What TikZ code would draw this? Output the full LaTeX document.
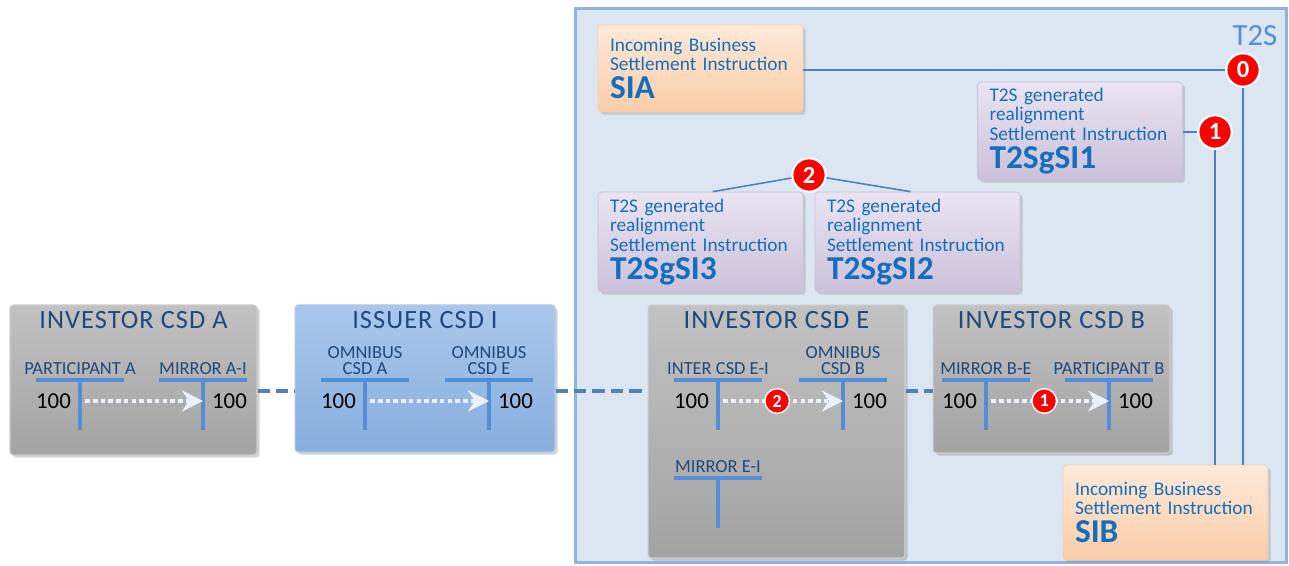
\documentclass[tikz,border=0pt]{standalone}
\usepackage{fontspec}
\setmainfont{Carlito}
\newfontfamily\titlefont[LetterSpace=4]{Carlito}
\usetikzlibrary{arrows.meta,positioning,calc,shadows}
\definecolor{t2sFill}{RGB}{220,230,242}
\definecolor{t2sEdge}{RGB}{142,180,227}
\definecolor{t2sText}{RGB}{85,142,213}
\definecolor{linkBlue}{RGB}{79,129,189}
\definecolor{tBlue}{RGB}{85,142,213}
\definecolor{titleBlue}{RGB}{31,73,125}
\definecolor{siBlue}{RGB}{20,110,190}
\definecolor{issuerTop}{RGB}{170,200,236}
\definecolor{issuerBot}{RGB}{135,174,222}
\definecolor{orangeTop}{RGB}{253,233,217}
\definecolor{orangeBot}{RGB}{250,205,168}
\definecolor{purpleTop}{RGB}{234,228,242}
\definecolor{purpleBot}{RGB}{204,193,218}
\definecolor{flowWhite}{RGB}{236,241,249}
\definecolor{badgeRed}{RGB}{255,0,0}

\begin{document}
\begin{tikzpicture}[x=0.02cm, y=-0.02cm,
  csd/.style={draw=gray!40, line width=0.6pt, rounded corners=2pt,
              top color=gray!48, bottom color=gray!72,
              drop shadow={shadow xshift=1.5pt, shadow yshift=-1.5pt, opacity=0.35}},
  issuer/.style={csd, draw=issuerTop, top color=issuerTop, bottom color=issuerBot},
  csdtitle/.style={text=titleBlue, font=\titlefont\fontsize{15}{16}\selectfont, inner sep=1pt},
  sibox/.style={draw=orangeBot, rounded corners=2pt, align=left, text width=3.62cm,
                inner xsep=0.24cm, text=siBlue, font=\fontsize{11}{11}\selectfont,
                top color=orangeTop, bottom color=orangeBot,
                drop shadow={shadow xshift=1.5pt, shadow yshift=-1.5pt, opacity=0.3}},
  genbox/.style={sibox, draw=purpleBot, top color=purpleTop, bottom color=purpleBot},
  tbar/.style={draw=tBlue, line width=2.3pt},
  tlabel/.style={text=titleBlue, font=\fontsize{10.5}{9}\selectfont, align=center, inner sep=1pt},
  amount/.style={font=\fontsize{13}{13}\selectfont, inner sep=1pt},
  flow/.style={draw=flowWhite, line width=2.3pt, dash pattern=on 2.6pt off 1.8pt,
               -{Stealth[length=12pt, width=12pt, inset=4pt, fill=flowWhite]}},
  link/.style={draw=linkBlue, line width=2.3pt, dash pattern=on 7pt off 3.5pt},
  wire/.style={draw=linkBlue, line width=0.9pt},
  badge/.style={circle, solid, fill=badgeRed, draw=white, line width=1.2pt, text=white,
                font=\bfseries\fontsize{14}{14}\selectfont, inner sep=0pt, minimum size=19pt},
  minibadge/.style={badge, minimum size=14pt, line width=0.8pt,
                    font=\bfseries\fontsize{10.5}{10.5}\selectfont}
]
  \useasboundingbox (0,0) rectangle (1289,565);

  % T2S area
  \node[draw=t2sEdge, line width=1.7pt, fill=t2sFill, minimum width=14.24cm,
        minimum height=11.1cm, inner sep=0pt] (t2s) at (931,285.5) {};
  \node[text=t2sText, font=\fontsize{17.5}{18}\selectfont, inner sep=0pt] (t2slabel) at (1255,36) {T2S};

  % CSD boxes
  \node[csd, minimum width=4.94cm, minimum height=3.0cm] (csdA) at (133.5,380) {};
  \node[issuer, minimum width=5.2cm, minimum height=2.94cm] (csdI) at (425,378.5) {};
  \node[csd, minimum width=5.14cm, minimum height=5.06cm] (csdE) at (776.5,431.5) {};
  \node[csd, minimum width=4.74cm, minimum height=2.96cm] (csdB) at (1051.5,379) {};

  \node[csdtitle, below=3pt of csdA.north] (titleA) {INVESTOR CSD A};
  \node[csdtitle, below=3pt of csdI.north] (titleI) {ISSUER CSD I};
  \node[csdtitle, below=3pt of csdE.north] (titleE) {INVESTOR CSD E};
  \node[csdtitle, below=3pt of csdB.north] (titleB) {INVESTOR CSD B};

  % links between CSDs
  \coordinate (lane) at (0,391);
  \draw[link] (csdA.east |- lane) -- (csdI.west |- lane);
  \draw[link] (csdI.east |- lane) -- (csdE.west |- lane);
  \draw[link] (csdE.east |- lane) -- (csdB.west |- lane);

  % T accounts
  \foreach \tn/\tx/\ty/\tlab in {pA/80/380/{PARTICIPANT A}, mAI/203/380/{MIRROR A-I},
      oA/365/380/{OMNIBUS\\CSD A}, oE/489/380/{OMNIBUS\\CSD E},
      iEI/718/380/{INTER CSD E-I}, oB/843/380/{OMNIBUS\\CSD B},
      mEI/718/478/{MIRROR E-I}, mBE/986/380/{MIRROR B-E}, pB/1109/380/{PARTICIPANT B}}
  {
    \draw[tbar] (\tx-44,\ty) -- (\tx+44,\ty);
    \draw[tbar] (\tx,\ty) -- (\tx,\ty+50);
    \node[tlabel, above=2pt] (lab-\tn) at (\tx,\ty) {\tlab};
    \coordinate (v-\tn) at (\tx,\ty+21);
  }
  \foreach \tn in {pA,oA,iEI,mBE}
    \node[amount, left=4pt of v-\tn] (amt-\tn) {100};
  \foreach \tn in {mAI,oE,oB,pB}
    \node[amount, right=4pt of v-\tn] (amt-\tn) {100};

  % movements
  \draw[flow] ([xshift=3pt]v-pA) -- (v-mAI);
  \draw[flow] ([xshift=3pt]v-oA) -- (v-oE);
  \draw[flow] ([xshift=3pt]v-iEI) -- (v-oB) node[minibadge, pos=0.45] (f2) {2};
  \draw[flow] ([xshift=3pt]v-mBE) -- (v-pB) node[minibadge, pos=0.45] (f1) {1};

  % settlement instructions
  \node[sibox, minimum height=1.74cm] (SIA) at (700.5,68.5)
    {Incoming Business\\Settlement Instruction\\[2.5pt]{\bfseries\fontsize{19}{19}\selectfont SIA}};
  \node[genbox, minimum height=1.96cm] (SI1) at (1080,131)
    {T2S generated\\realignment\\Settlement Instruction\\[2.5pt]{\bfseries\fontsize{19}{19}\selectfont T2SgSI1}};
  \node[genbox, minimum height=2.0cm] (SI3) at (700.5,242)
    {T2S generated\\realignment\\Settlement Instruction\\[2.5pt]{\bfseries\fontsize{19}{19}\selectfont T2SgSI3}};
  \node[genbox, minimum height=2.0cm] (SI2) at (917.5,242)
    {T2S generated\\realignment\\Settlement Instruction\\[2.5pt]{\bfseries\fontsize{19}{19}\selectfont T2SgSI2}};
  \node[sibox, minimum height=1.9cm] (SIB) at (1165.5,512.5)
    {Incoming Business\\Settlement Instruction\\[2.5pt]{\bfseries\fontsize{19}{19}\selectfont SIB}};

  % sequence
  \node[badge] (c0) at (1243,70) {0};
  \node[badge] (c1) at (1215,132) {1};
  \node[badge] (c2) at (809,175) {2};

  \draw[wire] (SIA.east |- c0) -- (c0);
  \draw[wire] (c0) -- (c0 |- SIB.north);
  \draw[wire] (SI1.east |- c1) -- (c1);
  \draw[wire] (c1) -- (c1 |- SIB.north);
  \draw[wire] (c2) -- ([xshift=7pt]SI3.north);
  \draw[wire] (c2) -- ([xshift=-4pt]SI2.north);
\end{tikzpicture}
\end{document}
